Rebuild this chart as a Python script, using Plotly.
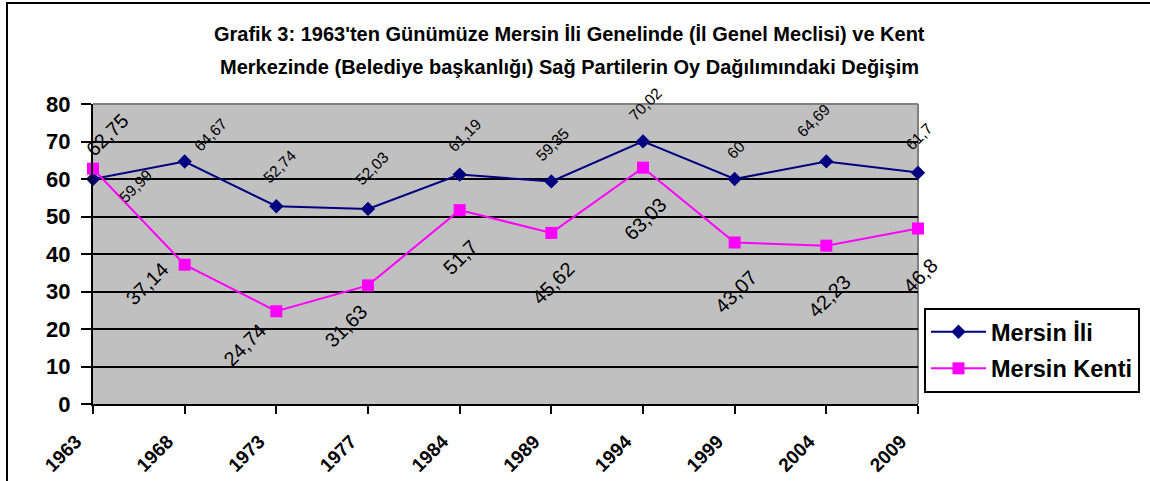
import plotly.graph_objects as go

# ---- data ----
years = ["1963", "1968", "1973", "1977", "1984", "1989", "1994", "1999", "2004", "2009"]
mersin_ili = [59.99, 64.67, 52.74, 52.03, 61.19, 59.35, 70.02, 60, 64.69, 61.7]
mersin_kenti = [62.75, 37.14, 24.74, 31.63, 51.7, 45.62, 63.03, 43.07, 42.23, 46.8]
y_ticks = [0, 10, 20, 30, 40, 50, 60, 70, 80]
title_lines = [
    "Grafik 3: 1963'ten Günümüze Mersin İli Genelinde (İl Genel Meclisi) ve Kent",
    "Merkezinde (Belediye başkanlığı) Sağ Partilerin Oy Dağılımındaki Değişim",
]

# ---- label placement (pixel offsets of label centre from its point; style only) ----
ili_label_offsets = [(42, 7), (26, -27), (3, -40), (4, -40), (4.5, -39.5), (1, -37),
                     (2, -37), (1.5, -29.5), (-13, -41), (1, -36)]
kenti_label_offsets = [(14, -34), (-38, 19), (-31.6, 34), (-22, 40.6), (1, 47), (2, 50),
                       (2, 51), (1, 49.5), (3, 50), (2, 47.5)]

FONT = "Arial, 'Liberation Sans', sans-serif"
NAVY = "#000080"
MAGENTA = "#FF00FF"

W, H = 1150, 481
PLOT_L, PLOT_T, PLOT_R, PLOT_B = 93, 104, 918, 404   # page pixels of the plot area
ML, MT = PLOT_L, PLOT_T
PW, PH = PLOT_R - PLOT_L, PLOT_B - PLOT_T
MR, MB = W - ML - PW, H - MT - PH


def fmt(v):
    return format(v, "g").replace(".", ",")


def px_x(page_x):
    return (page_x - PLOT_L) / PW


def px_y(page_y):
    return (PLOT_B - page_y) / PH


fig = go.Figure()
fig.add_trace(go.Scatter(
    x=years, y=mersin_ili, name="Mersin İli", mode="lines+markers",
    line=dict(color=NAVY, width=2),
    marker=dict(symbol="diamond", size=11, color=NAVY),
    cliponaxis=False, legendgroup="a",
))
fig.add_trace(go.Scatter(
    x=years, y=mersin_kenti, name="Mersin Kenti", mode="lines+markers",
    line=dict(color=MAGENTA, width=2),
    marker=dict(symbol="square", size=12, color=MAGENTA),
    cliponaxis=False, legendgroup="b",
))

annotations = []
for i, (v, (dx, dy)) in enumerate(zip(mersin_ili, ili_label_offsets)):
    annotations.append(dict(x=i, y=v, xref="x", yref="y", text=fmt(v), showarrow=False,
                            textangle=-45, xanchor="center", yanchor="middle",
                            xshift=dx, yshift=-dy,
                            font=dict(family=FONT, size=15.5, color="black")))
for i, (v, (dx, dy)) in enumerate(zip(mersin_kenti, kenti_label_offsets)):
    annotations.append(dict(x=i, y=v, xref="x", yref="y", text=fmt(v), showarrow=False,
                            textangle=-45, xanchor="center", yanchor="middle",
                            xshift=dx, yshift=-dy,
                            font=dict(family=FONT, size=20, color="black")))

# title lines (two separate lines to match the wide line spacing)
title_centres_px = [34, 66.5]
for txt, cy in zip(title_lines, title_centres_px):
    annotations.append(dict(x=px_x(569), y=px_y(cy), xref="paper", yref="paper",
                            text="<b>" + txt + "</b>", showarrow=False,
                            xanchor="center", yanchor="middle",
                            font=dict(family=FONT, size=20, color="black")))

shapes = [
    # outer chart border (continues past the right and bottom edges)
    dict(type="rect", xref="paper", yref="paper",
         x0=px_x(7), x1=px_x(1400), y0=px_y(700), y1=px_y(3),
         line=dict(color="black", width=2), layer="below"),
    # grey plot-area border: top and right
    dict(type="line", xref="paper", yref="paper", x0=0, x1=1, y0=1, y1=1,
         line=dict(color="#808080", width=2), layer="above"),
    dict(type="line", xref="paper", yref="paper", x0=1, x1=1, y0=0, y1=1,
         line=dict(color="#808080", width=2), layer="below"),
]

fig.update_layout(
    width=W, height=H, autosize=False,
    margin=dict(l=ML, r=MR, t=MT, b=MB, pad=0, autoexpand=False),
    paper_bgcolor="white", plot_bgcolor="#C0C0C0",
    font=dict(family=FONT, color="black"),
    showlegend=True,
    legend=dict(
        x=px_x(924), y=px_y(308), xanchor="left", yanchor="top",
        bgcolor="white", bordercolor="black", borderwidth=2,
        font=dict(family=FONT, size=23.5, color="black", weight="bold"),
        itemwidth=55, tracegroupgap=3, traceorder="grouped",
    ),
    annotations=annotations,
    shapes=shapes,
)
fig.update_xaxes(
    type="category", range=[0, len(years) - 1], automargin=False,
    showgrid=False, showline=True, linecolor="black", linewidth=2,
    ticks="outside", ticklen=8, tickwidth=2, tickcolor="black",
    tickangle=-45, tickfont=dict(family=FONT, size=19, weight="bold"),
    ticklabelstandoff=9, ticklabelshift=-17,
)
fig.update_yaxes(
    range=[0, 80], tickvals=y_ticks, automargin=False,
    showgrid=True, gridcolor="black", gridwidth=2,
    showline=True, linecolor="black", linewidth=2,
    ticks="outside", ticklen=10, tickwidth=2, tickcolor="black",
    tickfont=dict(family=FONT, size=22, weight="bold"),
    ticklabelstandoff=6, zeroline=False,
)

fig.write_html(
    "out.html",
    config={"displayModeBar": False},
    post_script="document.body.style.margin='0';",
)
